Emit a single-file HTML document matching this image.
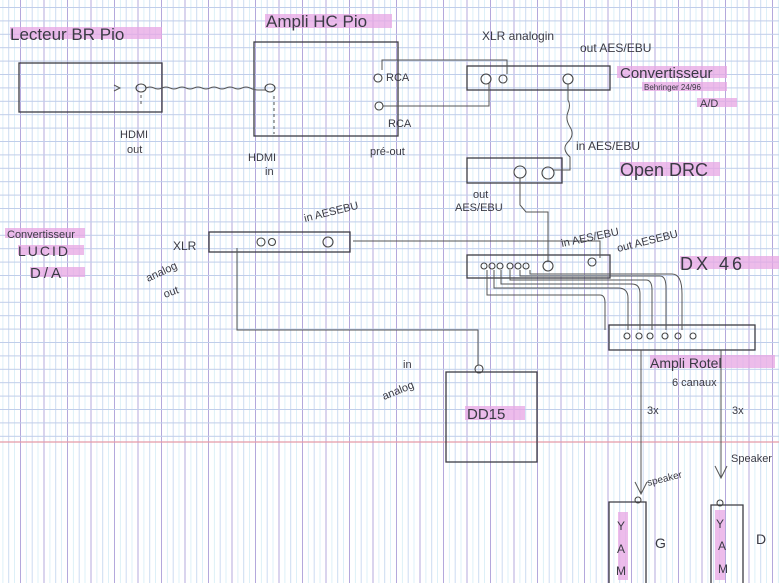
<!DOCTYPE html>
<html><head><meta charset="utf-8">
<style>
html,body{margin:0;padding:0;background:#fff;}
svg{display:block}
text{font-family:"Liberation Sans",sans-serif;fill:#3a3a44;}
</style></head>
<body>
<svg width="779" height="583" viewBox="0 0 779 583" xmlns="http://www.w3.org/2000/svg">
<defs>
<pattern id="vl" x="20" y="0" width="23.5" height="583" patternUnits="userSpaceOnUse">
 <line x1="0.5" y1="0" x2="0.5" y2="583" stroke="#b4a8dc" stroke-width="1"/>
 <line x1="6.4" y1="0" x2="6.4" y2="583" stroke="#ddf0f8" stroke-width="1"/>
 <line x1="12.2" y1="0" x2="12.2" y2="583" stroke="#ccdcf2" stroke-width="1"/>
 <line x1="18" y1="0" x2="18" y2="583" stroke="#ddf0f8" stroke-width="1"/>
</pattern>
<pattern id="hl" x="0" y="7" width="779" height="13.4" patternUnits="userSpaceOnUse">
 <line x1="0" y1="0.5" x2="779" y2="0.5" stroke="#c0cdea" stroke-width="1"/>
</pattern>
</defs>
<rect width="779" height="583" fill="#fff"/>
<rect width="779" height="583" fill="url(#vl)"/>
<rect width="779" height="442" fill="url(#hl)"/>
<line x1="0" y1="442" x2="779" y2="442" stroke="#e59aa8" stroke-width="1.2"/>

<!-- pink highlights -->
<g fill="#e7a6e4" opacity="0.75">
<rect x="10" y="27" width="152" height="12"/>
<rect x="265" y="14" width="127" height="14"/>
<rect x="617" y="66" width="110" height="12"/>
<rect x="642" y="82" width="85" height="9"/>
<rect x="697" y="98" width="40" height="9"/>
<rect x="620" y="162" width="100" height="14"/>
<rect x="680" y="256" width="100" height="13"/>
<rect x="650" y="355" width="125" height="13"/>
<rect x="5" y="228" width="80" height="10"/>
<rect x="18" y="245" width="66" height="10"/>
<rect x="30" y="267" width="55" height="10"/>
<rect x="465" y="406" width="60" height="14"/>
<rect x="618" y="512" width="10" height="68"/>
<rect x="715" y="510" width="10" height="70"/>
</g>

<g fill="none" stroke="#3c3c44" stroke-width="1.3">
<rect x="19" y="63" width="143" height="49"/>
<rect x="254" y="42" width="144" height="94"/>
<rect x="467" y="66" width="143" height="24"/>
<rect x="467" y="158" width="95" height="25"/>
<rect x="467" y="255" width="143" height="23"/>
<rect x="609" y="325" width="146" height="25"/>
<rect x="209" y="232" width="141" height="20"/>
<rect x="446" y="372" width="91" height="90"/>
<path d="M609,583 V502 H646 V583"/>
<path d="M711,583 V505 H743 V583"/>
</g>

<g fill="none" stroke="#555" stroke-width="1">
<path d="M146,88 q4,-2 8,0 t8,0 t8,0 t8,0 t8,0 t8,0 t8,0 t8,0 t8,0 t8,0 t8,0 t8,0 t8,0 t8,2 t8,0"/>
<path d="M382,70 V60 H507 V74"/>
<path d="M383,106 H489 V83"/>
<path d="M568,84 V100 q3,5 0,12 t2,15 t-2,15 t2,15 V170 H553"/>
<path d="M520,178 V205 L526,212 H548 V262"/>
<path d="M353,241 H560 H600 V258"/>
<path d="M237,248 V330 H478 V365"/>
<path d="M487,270 V295 H600 q5,0 5,8 V330 M494,270 V288 H618 q10,0 10,10 V330 M501,270 V284 H632 q8,0 8,10 V330 M510,270 V280 H646 q6,0 6,10 V330 M520,270 V276 H660 q6,0 6,12 V330 M530,270 V274 H672 q10,0 10,20 V330"/>
<path d="M641,350 V494 M635,482 L641,494 L647,482"/>
<path d="M721,350 V478 M715,466 L721,478 L727,466"/>
<path d="M141,95 V106 M274,96 V134" stroke-dasharray="3,3"/>
<path d="M114,85 l6,3 l-6,3"/>
</g>

<g fill="none" stroke="#444" stroke-width="1.1">
<ellipse cx="141" cy="88" rx="5" ry="4"/>
<ellipse cx="270" cy="88" rx="5" ry="4"/>
<circle cx="378" cy="78" r="4"/>
<circle cx="379" cy="106" r="4"/>
<circle cx="486" cy="79" r="5"/><circle cx="503" cy="79" r="4"/><circle cx="568" cy="79" r="5"/>
<circle cx="520" cy="172" r="6"/><circle cx="548" cy="173" r="6"/>
<circle cx="484" cy="266" r="3"/><circle cx="492" cy="266" r="3"/><circle cx="500" cy="266" r="3"/>
<circle cx="510" cy="266" r="3"/><circle cx="518" cy="266" r="3"/><circle cx="526" cy="266" r="3"/>
<circle cx="548" cy="266" r="5"/><circle cx="592" cy="262" r="4"/>
<circle cx="627" cy="336" r="3"/><circle cx="639" cy="336" r="3"/><circle cx="650" cy="336" r="3"/>
<circle cx="665" cy="336" r="3"/><circle cx="678" cy="336" r="3"/><circle cx="693" cy="336" r="3"/>
<circle cx="261" cy="242" r="4"/><circle cx="272" cy="242" r="3.5"/><circle cx="328" cy="242" r="5"/>
<circle cx="479" cy="369" r="4"/>
<circle cx="638" cy="500" r="3"/><circle cx="720" cy="503" r="3"/>
</g>

<g font-size="16">
<text x="10" y="40" font-size="17">Lecteur BR Pio</text>
<text x="266" y="27" font-size="17">Ampli HC Pio</text>
<text x="620" y="78" font-size="15" fill="#552255">Convertisseur</text>
<text x="620" y="176" font-size="18">Open DRC</text>
<text x="680" y="270" font-size="18" letter-spacing="3">DX 46</text>
<text x="650" y="368" font-size="14">Ampli Rotel</text>
<text x="467" y="419" font-size="15">DD15</text>
<text x="7" y="238" font-size="11">Convertisseur</text>
<text x="18" y="256" font-size="14" letter-spacing="2">LUCID</text>
<text x="30" y="278" font-size="15" letter-spacing="3">D/A</text>
</g>
<g font-size="11">
<text x="120" y="138">HDMI</text><text x="127" y="153">out</text>
<text x="248" y="161">HDMI</text><text x="265" y="175">in</text>
<text x="386" y="81">RCA</text><text x="388" y="127">RCA</text>
<text x="370" y="155">pré-out</text>
<text x="482" y="40" font-size="12">XLR analogin</text>
<text x="580" y="52" font-size="12">out AES/EBU</text>
<text x="644" y="90" font-size="8">Behringer 24/96</text>
<text x="700" y="107" font-size="11">A/D</text>
<text x="576" y="150" font-size="12">in AES/EBU</text>
<text x="473" y="198">out</text><text x="455" y="211">AES/EBU</text>
<text x="562" y="247" transform="rotate(-12 562 247)">in AES/EBU</text>
<text x="618" y="252" transform="rotate(-14 618 252)">out AESEBU</text>
<text x="672" y="386">6 canaux</text>
<text x="647" y="414">3x</text><text x="732" y="414">3x</text>
<text x="648" y="486" font-size="10" transform="rotate(-14 648 486)">speaker</text>
<text x="731" y="462" font-size="11">Speaker</text>
<text x="617" y="530" font-size="12">Y</text><text x="617" y="553" font-size="12">A</text><text x="616" y="575" font-size="12">M</text>
<text x="716" y="528" font-size="12">Y</text><text x="718" y="550" font-size="12">A</text><text x="718" y="573" font-size="12">M</text>
<text x="655" y="548" font-size="14">G</text>
<text x="756" y="544" font-size="14">D</text>
<text x="173" y="250" font-size="12">XLR</text>
<text x="148" y="282" transform="rotate(-25 148 282)">analog</text>
<text x="165" y="298" transform="rotate(-20 165 298)">out</text>
<text x="305" y="222" transform="rotate(-14 305 222)">in AESEBU</text>
<text x="403" y="368">in</text>
<text x="384" y="400" transform="rotate(-22 384 400)">analog</text>
</g>
</svg>
</body></html>
